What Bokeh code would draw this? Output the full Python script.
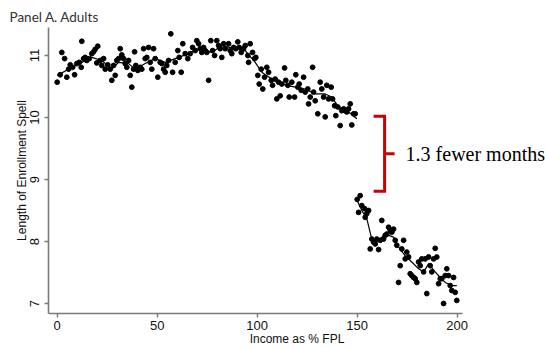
from bokeh.plotting import figure
from bokeh.models import Range1d, FixedTicker
from bokeh.embed import file_html
from bokeh.resources import INLINE
from bokeh.core.properties import value

# ---- data ----
income_below = [0, 1.5, 2.3, 3.7, 4.8, 5.7, 6.5, 7.7, 8.7, 9.8, 11.0, 12.3, 12.0, 13.2, 14.0, 14.8, 16.0,
                17.3, 18.2, 19.0, 20.3, 19.8, 21.5, 22.3, 23.2, 24.0, 25.3, 26.5, 27.3, 28.2, 29.0, 29.8,
                30.7, 31.5, 32.3, 33.2, 34.0, 34.8, 35.7, 36.5, 37.3, 38.2, 38.7, 39.3, 40.3, 41.5, 42.3,
                43.2, 44.0, 44.8, 45.7, 46.5, 47.3, 48.2, 49.0, 50.3, 51.5, 52.3, 53.2, 54.0, 54.8, 55.7,
                56.8, 57.7, 59.0, 60.3, 61.0, 62.0, 62.8, 64.0, 65.3, 66.5, 67.7, 69.0, 69.8, 70.7, 71.5,
                72.3, 73.2, 74.0, 74.8, 75.7, 76.8, 77.7, 78.7, 79.8, 80.7, 81.5, 82.3, 83.2, 84.0, 85.7,
                86.5, 87.3, 88.2, 89.3, 90.3, 91.0, 92.0, 93.2, 94.0, 95.3, 95.7, 96.5, 97.7, 98.7, 99.3,
                100.3, 101.0, 102.0, 102.8, 103.7, 104.8, 105.7, 107.0, 107.7, 109.0, 109.8, 110.7, 111.5,
                112.3, 113.7, 114.3, 115.3, 116.0, 117.3, 118.7, 119.3, 120.3, 121.0, 122.0, 123.2, 124.0,
                125.3, 125.7, 126.5, 127.7, 128.2, 129.0, 130.3, 131.5, 132.3, 133.2, 134.0, 134.8, 135.7,
                137.0, 137.7, 138.7, 139.3, 140.3, 141.5, 142.3, 143.2, 144.0, 144.8, 145.7, 146.5, 147.3,
                148.2, 149.0]
spell_below = [10.57, 10.69, 11.05, 10.95, 10.65, 10.78, 10.85, 10.81, 10.69, 10.87, 10.89, 11.23, 10.81,
               10.95, 10.97, 10.92, 10.95, 11.03, 11.06, 11.10, 11.15, 10.88, 10.92, 10.84, 10.95, 10.78,
               10.85, 10.78, 10.60, 10.84, 10.68, 10.92, 10.95, 11.11, 11.01, 10.95, 10.87, 10.81, 10.92,
               10.68, 10.49, 10.78, 11.06, 10.84, 10.76, 10.81, 10.78, 11.11, 10.95, 10.97, 11.13, 10.89,
               10.78, 11.11, 10.95, 10.65, 10.89, 10.87, 10.78, 10.73, 10.84, 10.92, 11.35, 10.73, 10.89,
               11.08, 10.97, 10.73, 11.19, 11.03, 10.95, 11.03, 11.13, 11.08, 11.24, 11.19, 11.11, 11.05,
               11.13, 11.08, 11.05, 10.60, 11.24, 11.08, 11.00, 11.24, 11.16, 11.11, 10.97, 11.19, 11.11,
               11.19, 11.08, 11.03, 11.13, 11.11, 11.22, 11.13, 11.05, 11.11, 11.16, 11.00, 10.89, 11.19,
               11.05, 10.95, 10.97, 10.68, 10.54, 10.78, 10.46, 10.65, 10.81, 10.73, 10.60, 10.52, 10.62,
               10.30, 10.57, 10.35, 10.54, 10.80, 10.60, 10.52, 10.33, 10.57, 10.33, 10.69, 10.49, 10.54,
               10.44, 10.65, 10.41, 10.46, 10.22, 10.33, 10.81, 10.41, 10.27, 10.06, 10.57, 10.46, 10.33,
               10.01, 10.52, 10.30, 10.49, 10.30, 10.19, 10.03, 10.17, 9.87, 10.11, 10.14, 10.11, 10.09,
               10.14, 10.22, 9.88, 10.06, 10.06]

income_above = [150.0, 151.5, 150.7, 152.3, 153.7, 154.8, 154.0, 155.7, 156.5, 157.3, 158.2, 159.0, 159.8,
                160.7, 161.5, 162.3, 163.2, 164.0, 164.8, 165.7, 166.5, 167.3, 168.2, 169.0, 169.8, 170.7,
                171.5, 172.3, 173.2, 174.0, 174.8, 175.7, 176.5, 177.3, 178.2, 179.0, 179.8, 180.7, 181.5,
                182.3, 183.2, 184.0, 184.8, 185.7, 186.5, 187.3, 188.2, 189.0, 189.8, 190.7, 191.5, 192.3,
                193.2, 194.0, 194.8, 195.7, 196.5, 197.3, 198.2, 199.0, 199.8]
spell_above = [8.68, 8.74, 8.47, 8.58, 8.53, 8.45, 8.39, 8.50, 7.88, 8.04, 7.99, 7.96, 8.04, 7.87, 8.02,
               8.34, 8.04, 8.10, 8.12, 8.23, 8.18, 8.15, 8.20, 8.02, 7.94, 7.34, 7.61, 7.88, 8.02, 7.72,
               7.83, 7.75, 7.48, 7.45, 7.42, 7.40, 7.34, 7.67, 7.61, 7.72, 7.51, 7.72, 7.16, 7.75, 7.61,
               7.51, 7.72, 7.89, 7.75, 7.32, 7.40, 7.40, 7.00, 7.45, 7.56, 7.45, 7.29, 7.21, 7.42, 7.18,
               7.05]

fit_below_x = [0, 5.7, 12.3, 17.3, 22.3, 27.3, 30.7, 35.7, 39.0, 44.0, 49.0, 54.0, 59.0, 65.7, 70.7, 77.3,
               82.3, 89.0, 94.0, 99.0, 102.3, 107.3, 112.3, 119.0, 124.0, 129.0, 134.0, 137.3, 140.7,
               145.7, 149.8]
fit_below_y = [10.68, 10.78, 10.89, 10.97, 10.92, 10.78, 10.89, 10.87, 10.78, 10.87, 10.95, 10.89, 10.95,
               11.03, 11.11, 11.05, 11.16, 11.11, 11.08, 10.89, 10.73, 10.62, 10.54, 10.49, 10.46, 10.38,
               10.38, 10.33, 10.17, 10.09, 9.98]
fit_above_x = [150.0, 152.3, 154.8, 157.3, 159.8, 162.3, 165.7, 168.2, 170.7, 174.0, 177.3, 180.7, 183.2,
               185.7, 189.0, 191.5, 194.0, 197.3, 199.8]
fit_above_y = [8.66, 8.50, 8.37, 8.04, 7.99, 8.07, 8.10, 8.07, 7.91, 7.77, 7.67, 7.56, 7.51, 7.64, 7.51,
               7.42, 7.34, 7.29, 7.29]

x_ticks = [0, 50, 100, 150, 200]
y_ticks = [7, 8, 9, 10, 11]
gap_top = 10.02
gap_bottom = 8.81
gap_text = "1.3 fewer months"
title_text = "Panel A. Adults"
x_label = "Income as % FPL"
y_label = "Length of Enrollment Spell"

# ---- figure ----
p = figure(width=545, height=348, output_backend="svg", toolbar_location=None,
           x_range=Range1d(-4.35, 244.15), y_range=Range1d(6.839, 11.452),
           min_border_left=48, min_border_right=0, min_border_top=27, min_border_bottom=35,
           background_fill_color="white", border_fill_color="white", outline_line_color=None)
p.grid.visible = False

p.title.text = title_text
p.title.text_font = "Lato"
p.title.text_font_size = "13.5px"
p.title.text_font_style = "normal"
p.title.text_color = "#333333"
p.title.align = "left"
p.title.offset = -39
p.title.standoff = 6

axis_color = "#7a7a7a"
for ax in (p.xaxis[0], p.yaxis[0]):
    ax.axis_line_color = axis_color
    ax.axis_line_width = 1.6
    ax.major_tick_line_color = axis_color
    ax.major_tick_line_width = 1.4
    ax.major_tick_out = 4
    ax.major_tick_in = 0
    ax.minor_tick_line_color = None
    ax.major_label_text_font = "Liberation Sans"
    ax.major_label_text_font_size = "13px"
    ax.major_label_text_color = "#111111"
    ax.axis_label_text_font = "Liberation Sans"
    ax.axis_label_text_font_size = "12px"
    ax.axis_label_text_font_style = "normal"
    ax.axis_label_text_color = "#111111"

p.xaxis.ticker = FixedTicker(ticks=x_ticks)
p.xaxis.bounds = (-4.35, 202.5)
p.xaxis.major_label_standoff = 3
p.xaxis.axis_label = x_label
p.xaxis.axis_label_standoff = -1

p.yaxis.ticker = FixedTicker(ticks=y_ticks)
p.yaxis.major_label_orientation = "vertical"
p.yaxis.major_label_standoff = 5
p.yaxis.axis_label = y_label
p.yaxis.axis_label_standoff = -1

# scatter points
p.scatter(income_below, spell_below, size=4.8, color="black", marker="circle")
p.scatter(income_above, spell_above, size=4.8, color="black", marker="circle")
# smoothed fit
p.line(fit_below_x, fit_below_y, color="black", line_width=1.2)
p.line(fit_above_x, fit_above_y, color="black", line_width=1.2)

# bracket annotation
gap_mid = (gap_top + gap_bottom) / 2
br_left, br_spine, br_tip = 158.2, 163.7, 168.7
p.multi_line(xs=[[br_left, br_spine, br_spine, br_left], [br_spine, br_tip]],
             ys=[[gap_top, gap_top, gap_bottom, gap_bottom], [gap_mid, gap_mid]],
             line_color="#cc0000", line_width=3, line_join="miter")
p.text(x=[174.2], y=[gap_mid], text=[gap_text], text_font=value("Liberation Serif"),
       text_font_size="20px", text_baseline="middle", text_align="left", text_color="black")

open("out.html", "w").write(file_html(p, INLINE))
